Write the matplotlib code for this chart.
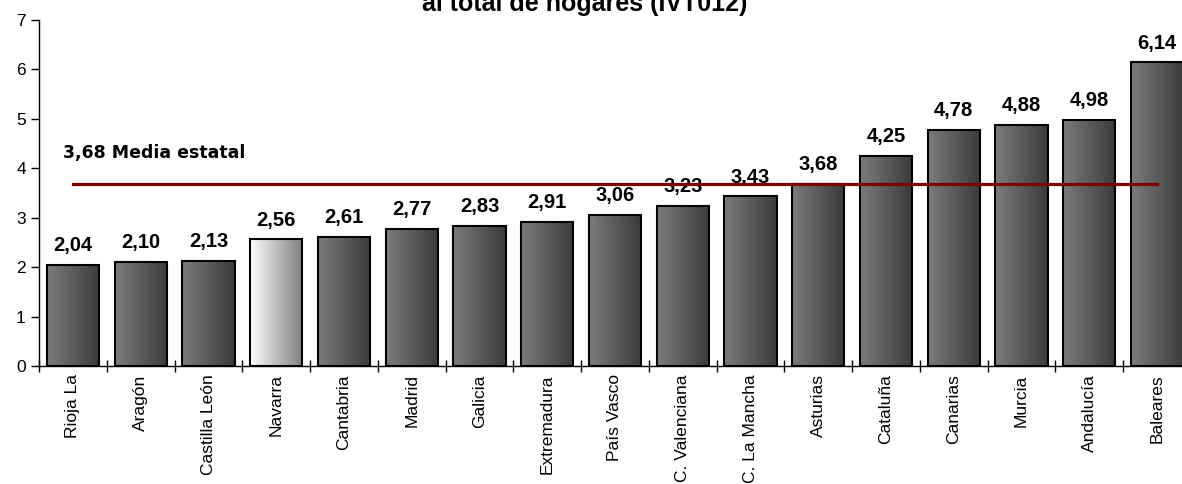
import numpy as np
import matplotlib.pyplot as plt
from matplotlib.colors import LinearSegmentedColormap

plt.rcParams['font.family'] = ['Liberation Sans', 'DejaVu Sans']

# Data
regiones = ['Rioja La', 'Aragón', 'Castilla León', 'Navarra', 'Cantabria',
            'Madrid', 'Galicia', 'Extremadura', 'País Vasco', 'C. Valenciana',
            'C. La Mancha', 'Asturias', 'Cataluña', 'Canarias', 'Murcia',
            'Andalucía', 'Baleares']
valores = [2.04, 2.10, 2.13, 2.56, 2.61, 2.77, 2.83, 2.91, 3.06, 3.23,
           3.43, 3.68, 4.25, 4.78, 4.88, 4.98, 6.14]
media = 3.68
destacada = 'Navarra'

fig = plt.figure(figsize=(11.82, 4.84), dpi=100)
ax = fig.add_axes([0.033, 0.2438, 0.9746, 0.715])

x = np.arange(len(regiones))
bars = ax.bar(x, valores, width=0.77, color='none', edgecolor='black',
              linewidth=1.5, zorder=3)

cm_gris = LinearSegmentedColormap.from_list('gris', ['#7c7c7c', '#3a3a3a'])
cm_claro = LinearSegmentedColormap.from_list('claro', ['#ffffff', '#7e7e7e'])
grad = np.linspace(0, 1, 256).reshape(1, -1)

for bar, nombre in zip(bars, regiones):
    x0, y0 = bar.get_x(), bar.get_y()
    w, h = bar.get_width(), bar.get_height()
    cmap = cm_claro if nombre == destacada else cm_gris
    im = ax.imshow(grad, cmap=cmap, aspect='auto', extent=[x0, x0 + w, y0, y0 + h],
                   zorder=2)
    im.set_clip_path(bar)

for xi, v in zip(x, valores):
    ax.annotate(f'{v:.2f}'.replace('.', ','), (xi, v), xytext=(0, 10),
                textcoords='offset points', ha='center', va='baseline',
                fontsize=14.5, fontweight='bold')

# linea de la media
ax.plot([x[0], x[-1]], [media, media], color='#800000', linewidth=2.3, zorder=4)
ax.text(-0.15, 4.2, f'{media:.2f}'.replace('.', ',') + ' Media estatal',
        fontsize=12.5, fontweight='bold', va='baseline', ha='left',
        family='DejaVu Sans')

ax.set_xlim(-0.5, len(regiones) - 0.5)
ax.set_ylim(0, 7)
ax.set_yticks(range(0, 8))
ax.tick_params(axis='y', direction='out', length=6, labelsize=12.5, width=1)

ax.set_xticks(x)
ax.set_xticklabels(regiones, rotation=90, fontsize=12.5)
ax.tick_params(axis='x', length=0, pad=6)
ax.set_xticks(np.arange(-0.5, len(regiones), 1), minor=True)
ax.tick_params(axis='x', which='minor', direction='inout', length=9, width=1)

for s in ['top', 'right']:
    ax.spines[s].set_visible(False)
ax.spines['left'].set_linewidth(1)
ax.spines['bottom'].set_linewidth(1)
ax.spines['bottom'].set_zorder(5)

# titulo cortado por arriba, como en el original
fig.text(0.495, 1 - 11 / 484, 'al total de hogares (IVT012)', ha='center',
         va='baseline', fontsize=18, fontweight='bold')

fig.savefig('out.png', dpi=100)
